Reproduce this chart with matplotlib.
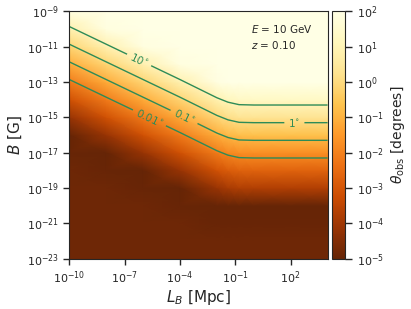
import numpy as np
import matplotlib
matplotlib.use("Agg")
import matplotlib.pyplot as plt
from matplotlib.colors import LogNorm
from matplotlib.ticker import FuncFormatter

# grid nodes (log10 of L_B in Mpc, log10 of B in G)
log_L = [-10, -8, -6, -4, -2, -1.4, -0.8, 0, 2, 4]
log_B = list(range(-23, -8))  # -23 ... -9

# log10(theta_obs / deg), one row per B node (bottom to top), one column per L node
log_theta = [
    [-4.85, -4.85, -4.85, -4.85, -4.85, -4.85, -4.85, -4.85, -4.85, -4.85],  # -23
    [-4.85, -4.85, -4.85, -4.85, -4.85, -4.85, -4.85, -4.85, -4.85, -4.85],  # -22
    [-4.85, -4.85, -4.85, -4.85, -4.95, -4.95, -4.95, -4.95, -4.95, -4.95],  # -21
    [-4.85, -4.85, -4.85, -4.95, -5.10, -5.10, -5.10, -5.10, -5.10, -5.10],  # -20
    [-4.85, -4.85, -4.95, -5.10, -4.11, -3.86, -3.72, -3.70, -3.70, -3.70],  # -19
    [-4.85, -4.95, -5.10, -4.14, -3.11, -2.86, -2.72, -2.70, -2.70, -2.70],  # -18
    [-4.95, -5.10, -4.14, -3.14, -2.11, -1.86, -1.72, -1.70, -1.70, -1.70],  # -17
    [-5.10, -4.14, -3.14, -2.14, -1.11, -0.86, -0.72, -0.70, -0.70, -0.70],  # -16
    [-4.14, -3.14, -2.14, -1.14, -0.11, 0.14, 0.28, 0.30, 0.30, 0.30],       # -15
    [-3.14, -2.14, -1.14, -0.14, 0.89, 1.14, 1.28, 1.30, 1.30, 1.30],        # -14
    [-2.14, -1.14, -0.14, 0.86, 1.89, 2.14, 2.28, 2.30, 2.30, 2.30],         # -13
    [-1.14, -0.14, 0.86, 1.86, 2.30, 2.30, 2.30, 2.30, 2.30, 2.30],          # -12
    [-0.14, 0.86, 1.86, 2.30, 2.30, 2.30, 2.30, 2.30, 2.30, 2.30],           # -11
    [0.86, 1.86, 2.30, 2.30, 2.30, 2.30, 2.30, 2.30, 2.30, 2.30],            # -10
    [1.86, 2.30, 2.30, 2.30, 2.30, 2.30, 2.30, 2.30, 2.30, 2.30],            # -9
]

contour_levels = [-2, -1, 0, 1]  # log10 of 0.01, 0.1, 1, 10 degrees
contour_names = {-2: r"$0.01^{\circ}$", -1: r"$0.1^{\circ}$", 0: r"$1^{\circ}$", 1: r"$10^{\circ}$"}
# where the labels sit (log10 L_B, log10 B)
label_spots = [(-6.2, -11.7), (2.2, -15.3), (-3.75, -14.9), (-5.65, -15.0)]

x_ticks = [-10, -7, -4, -1, 2]
y_ticks = [-9, -11, -13, -15, -17, -19, -21, -23]
cbar_ticks = [1e-5, 1e-4, 1e-3, 1e-2, 1e-1, 1e0, 1e1, 1e2]

textcol = "#262626"
linecol = "#2e8b57"

plt.rcParams["mathtext.fontset"] = "dejavusans"

LL, BB = np.meshgrid(log_L, log_B)
lt = np.array(log_theta)

fig = plt.figure(figsize=(4.11, 3.09), dpi=100)
ax = fig.add_axes([0.169, 0.163, 0.628, 0.800])
cax = fig.add_axes([0.808, 0.163, 0.032, 0.800])

norm = LogNorm(vmin=1e-5, vmax=1e2)
mesh = ax.pcolormesh(LL, BB, 10.0 ** lt, cmap="YlOrBr_r", norm=norm, shading="gouraud")
cs = ax.contour(LL, BB, lt, levels=contour_levels, colors=linecol,
                linewidths=1.0, linestyles="solid")
ax.clabel(cs, fmt=contour_names, fontsize=7.5, colors=linecol, inline=True,
          inline_spacing=4, manual=label_spots)

pow10 = FuncFormatter(lambda v, pos: r"$10^{%d}$" % round(v))
ax.set_xlim(-10, 4)
ax.set_ylim(-23, -9)
ax.set_xticks(x_ticks)
ax.set_yticks(y_ticks)
ax.xaxis.set_major_formatter(pow10)
ax.yaxis.set_major_formatter(pow10)
ax.tick_params(direction="out", length=4, width=1, colors=textcol, labelsize=8)
for sp in ax.spines.values():
    sp.set_color(textcol)
ax.set_xlabel(r"$L_B$ [Mpc]", fontsize=11, color=textcol, labelpad=2)
ax.set_ylabel(r"$B$ [G]", fontsize=11, color=textcol, labelpad=2)

ax.text(0.705, 0.955, r"$E$ = 10 GeV", transform=ax.transAxes, fontsize=7.5,
        color=textcol, va="top", ha="left")
ax.text(0.705, 0.89, r"$z$ = 0.10", transform=ax.transAxes, fontsize=7.5,
        color=textcol, va="top", ha="left")

cb = fig.colorbar(mesh, cax=cax, ticks=cbar_ticks)
cb.ax.minorticks_off()
cb.ax.tick_params(length=5, width=1, colors=textcol, labelsize=8)
cb.outline.set_edgecolor(textcol)
cb.set_label(r"$\theta_{\rm obs}$ [degrees]", fontsize=10, color=textcol, labelpad=3)

fig.savefig("out.png", dpi=100)
